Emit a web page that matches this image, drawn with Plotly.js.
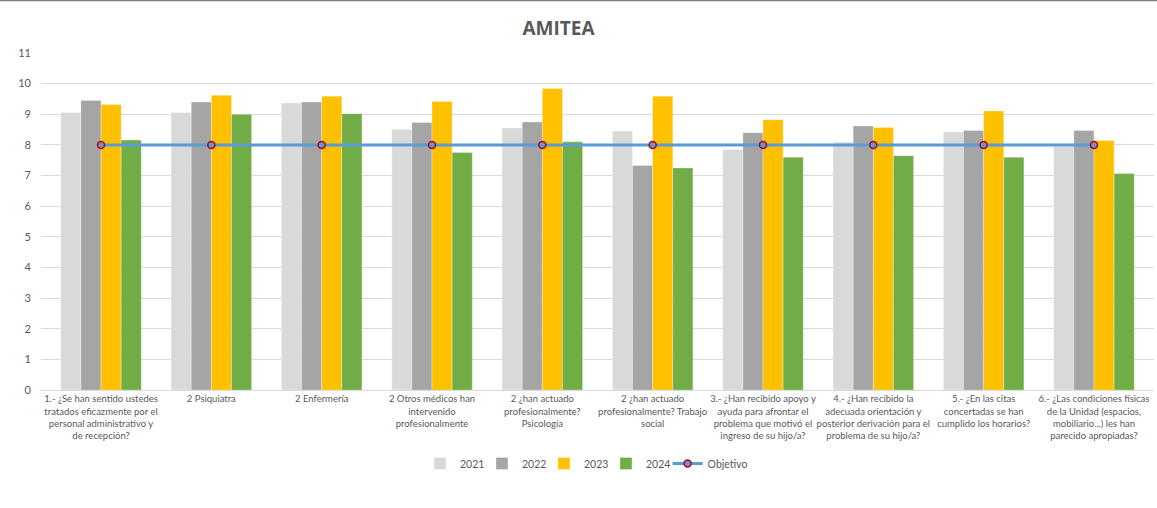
<!DOCTYPE html>
<html>
<head>
<meta charset="utf-8">
<script src="https://cdn.plot.ly/plotly-3.0.1.min.js"></script>
<style>html,body{margin:0;padding:0;background:#fff;}#chart{width:1157px;height:508px;}</style>
</head>
<body>
<div id="chart"></div>
<script>
const categories = [
  "1.- ¿Se han sentido ustedes<br>tratados eficazmente por el<br>personal administrativo y<br>de recepción?",
  "2 Psiquiatra",
  "2 Enfermería",
  "2 Otros médicos han<br>intervenido<br>profesionalmente",
  "2 ¿han actuado<br>profesionalmente?<br>Psicología",
  "2 ¿han actuado<br>profesionalmente? Trabajo<br>social",
  "3.- ¿Han recibido apoyo y<br>ayuda para afrontar el<br>problema que motivó el<br>ingreso de su hijo/a?",
  "4.- ¿Han recibido la<br>adecuada orientación y<br>posterior derivación para el<br>problema de su hijo/a?",
  "5.- ¿En las citas<br>concertadas se han<br>cumplido los horarios?",
  "6.- ¿Las condiciones físicas<br>de la Unidad (espacios,<br>mobiliario...) les han<br>parecido apropiadas?"
];
const v2021 = [9.06, 9.06, 9.37, 8.50, 8.55, 8.45, 7.85, 8.09, 8.42, 7.95];
const v2022 = [9.45, 9.40, 9.40, 8.73, 8.75, 7.33, 8.40, 8.62, 8.47, 8.47];
const v2023 = [9.32, 9.62, 9.59, 9.42, 9.84, 9.59, 8.82, 8.57, 9.11, 8.14];
const v2024 = [8.16, 9.00, 9.02, 7.75, 8.10, 7.25, 7.60, 7.65, 7.60, 7.07];
const objetivo = [8, 8, 8, 8, 8, 8, 8, 8, 8, 8];

const fontFam = "Lato, 'Liberation Sans', sans-serif";
const barLine = {color: 'rgba(255,255,255,0.6)', width: 0.5};
const traces = [
  {type:'bar', name:'2021', x:categories, y:v2021, legend:'legend', marker:{color:'#d9d9d9', line:barLine}},
  {type:'bar', name:'2022', x:categories, y:v2022, legend:'legend4', marker:{color:'#a5a5a5', line:barLine}},
  {type:'bar', name:'2023', x:categories, y:v2023, legend:'legend5', marker:{color:'#ffc000', line:barLine}},
  {type:'bar', name:'2024', x:categories, y:v2024, legend:'legend3', marker:{color:'#70ad47', line:barLine}},
  {type:'scatter', mode:'lines+markers', name:'Objetivo', x:categories, y:objetivo, legend:'legend2',
   line:{color:'#5b9bd5', width:3},
   marker:{symbol:'circle', size:7, color:'#5b9bd5', line:{color:'#c00000', width:1.5}}}
];

const legFont = {family:fontFam, size:10.5, color:'#595959'};
function leg(xp) {
  return {orientation:'h', x:xp, xanchor:'left', y:-0.175, yanchor:'top', bgcolor:'rgba(0,0,0,0)',
          font:legFont, itemwidth:30};
}
const layout = {
  width:1157, height:508,
  margin:{l:41, r:3, t:53, b:118, autoexpand:false},
  paper_bgcolor:'#ffffff', plot_bgcolor:'#ffffff',
  font:{family:fontFam, color:'#595959', size:10},
  title:{text:'<b>AMITEA</b>', x:0.465, xref:'paper', xanchor:'center', y:0.945, yref:'container', yanchor:'middle',
         font:{family:"'Open Sans', 'Liberation Sans', sans-serif", size:19, color:'#595959'}},
  barmode:'group', bargap:0.27, bargroupgap:0,
  showlegend:true,
  legend:leg(0.3405),
  legend4:leg(0.3962),
  legend5:leg(0.4519),
  legend3:leg(0.5076),
  legend2:leg(0.563),
  xaxis:{type:'category', tickfont:{family:fontFam, size:9.5, color:'#595959'}, tickangle:0,
         showgrid:false, showline:true, linecolor:'#d9d9d9', linewidth:1, ticks:'', automargin:false},
  yaxis:{range:[0,11], dtick:1, tick0:0, showgrid:true, gridcolor:'#d9d9d9', gridwidth:1,
         zeroline:false, showline:false, ticks:'', tickfont:{family:fontFam, size:11, color:'#595959'},
         ticklabelstandoff:9, automargin:false},
  shapes:[{type:'line', xref:'paper', yref:'paper', x0:-41/1113, x1:1+3/1113, y0:1.1555, y1:1.1555,
           line:{color:'#7f7f7f', width:1.5}}]
};

Plotly.newPlot('chart', traces, layout, {displayModeBar:false, staticPlot:true});
</script>
</body>
</html>
